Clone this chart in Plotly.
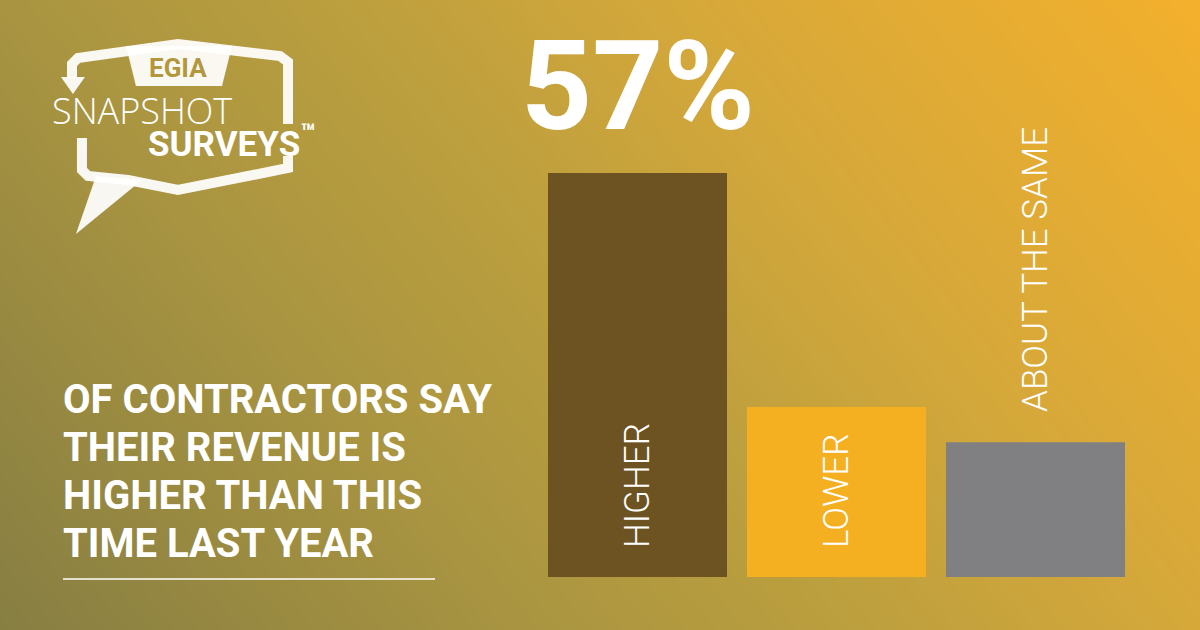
import plotly.graph_objects as go

# survey results
categories = ["HIGHER", "LOWER", "ABOUT THE SAME"]
values = [57, 24, 19]
bar_colors = ["#6e5322", "#f5b022", "#808083"]
label_inside = [True, True, False]

headline_lines = ["OF CONTRACTORS SAY", "THEIR REVENUE IS", "HIGHER THAN THIS", "TIME LAST YEAR"]

W, H = 1200, 630

def pos(x, y):
    return x / W, 1 - y / H

def path(points, close=False):
    parts = []
    for i, (x, y) in enumerate(points):
        px_, py_ = pos(x, y)
        parts.append(("M" if i == 0 else "L") + f"{px_:.4f},{py_:.4f}")
    return " ".join(parts) + (" Z" if close else "")

fig = go.Figure()

# background gradient (olive bottom-left to gold top-right)
fig.add_trace(go.Heatmap(
    x=[0, 1], y=[0, 1], z=[[0, 0.7], [0.3, 1]],
    zsmooth="best", showscale=False, hoverinfo="skip",
    colorscale=[[0, "#877e42"], [0.3, "#a89441"], [0.5, "#bc9f3e"], [0.7, "#d6a83a"], [1, "#f3b02c"]],
    xaxis="x", yaxis="y",
))

fig.add_trace(go.Bar(
    x=list(range(len(categories))), y=values,
    marker=dict(color=bar_colors, line_width=0),
    width=179 / 199, xaxis="x2", yaxis="y2", hoverinfo="skip",
))

# bar axis scale: 199 px per category, ~7.09 px per percent, base at y=577px
xr0 = -637.5 / 199
yr0 = -53 / (404 / 57)
fig.update_layout(
    width=W, height=H, margin=dict(l=0, r=0, t=0, b=0),
    showlegend=False, paper_bgcolor="#b09a40", plot_bgcolor="rgba(0,0,0,0)",
    xaxis=dict(range=[0, 1], domain=[0, 1], visible=False, fixedrange=True),
    yaxis=dict(range=[0, 1], domain=[0, 1], visible=False, fixedrange=True),
    xaxis2=dict(range=[xr0, xr0 + W / 199], overlaying="x", visible=False),
    yaxis2=dict(range=[yr0, yr0 + H / (404 / 57)], overlaying="y", visible=False),
)

# labels on the bars
for i, (cat, v) in enumerate(zip(categories, values)):
    fig.add_annotation(
        x=i, y=3.8 if label_inside[i] else v + 4, xref="x2", yref="y2",
        text=cat, textangle=-90, showarrow=False, yanchor="bottom", xanchor="center",
        font=dict(family="Roboto", size=35, color="white", weight=300),
    )

fig.add_annotation(
    x=0, y=values[0] + 1.7, xref="x2", yref="y2", text=f"{values[0]}%",
    showarrow=False, yanchor="bottom", xanchor="center",
    font=dict(family="Roboto", size=124, color="white", weight=700),
)

for i, line in enumerate(headline_lines):
    fig.add_annotation(
        x=61 / W, y=1 - (374 + 48 * i) / H, xref="paper", yref="paper", text=line,
        showarrow=False, xanchor="left", yanchor="top", align="left",
        font=dict(family="Roboto", size=40, color="white", weight=700),
    )
fig.add_shape(type="line", xref="paper", yref="paper",
              x0=63 / W, x1=435 / W, y0=1 - 579 / H, y1=1 - 579 / H,
              line=dict(color="white", width=1.5))

# logo
logo_white = "rgba(255,255,255,0.93)"
bubble_lower = [(82, 138), (82, 170), (88, 176), (128, 180), (178, 190), (288, 168), (288, 156)]
bubble_upper = [(288, 124), (288, 62), (280, 56), (178, 44), (78, 58), (72, 64), (72, 78)]
for seg in (bubble_lower, bubble_upper):
    fig.add_shape(type="path", xref="paper", yref="paper", path=path(seg),
                  line=dict(color=logo_white, width=10))
fig.add_shape(type="path", xref="paper", yref="paper",
              path=path([(96, 176), (76, 234), (142, 180)], close=True),
              fillcolor=logo_white, line_width=0)
fig.add_shape(type="path", xref="paper", yref="paper",
              path=path([(61, 77), (85, 77), (73, 94)], close=True),
              fillcolor=logo_white, line_width=0)
fig.add_shape(type="path", xref="paper", yref="paper",
              path=path([(126, 46), (232, 46), (222, 86), (136, 86)], close=True),
              fillcolor=logo_white, line_width=0)

fig.add_annotation(x=178 / W, y=1 - 68 / H, xref="paper", yref="paper", text="EGIA",
                   showarrow=False, xanchor="center", yanchor="middle",
                   font=dict(family="Roboto", size=26, color="#b2973c", weight=700))
fig.add_annotation(x=142 / W, y=1 - 110 / H, xref="paper", yref="paper", text="SNAPSHOT",
                   showarrow=False, xanchor="center", yanchor="middle",
                   font=dict(family="Open Sans", size=36, color="white", weight=300))
fig.add_annotation(x=146 / W, y=1 - 141 / H, xref="paper", yref="paper", text="SURVEYS<sup>™</sup>",
                   showarrow=False, xanchor="left", yanchor="middle",
                   font=dict(family="Roboto", size=35, color="white", weight=700))

fig.write_html("out.html", config={"displayModeBar": False},
               post_script="document.body.style.margin='0';")
